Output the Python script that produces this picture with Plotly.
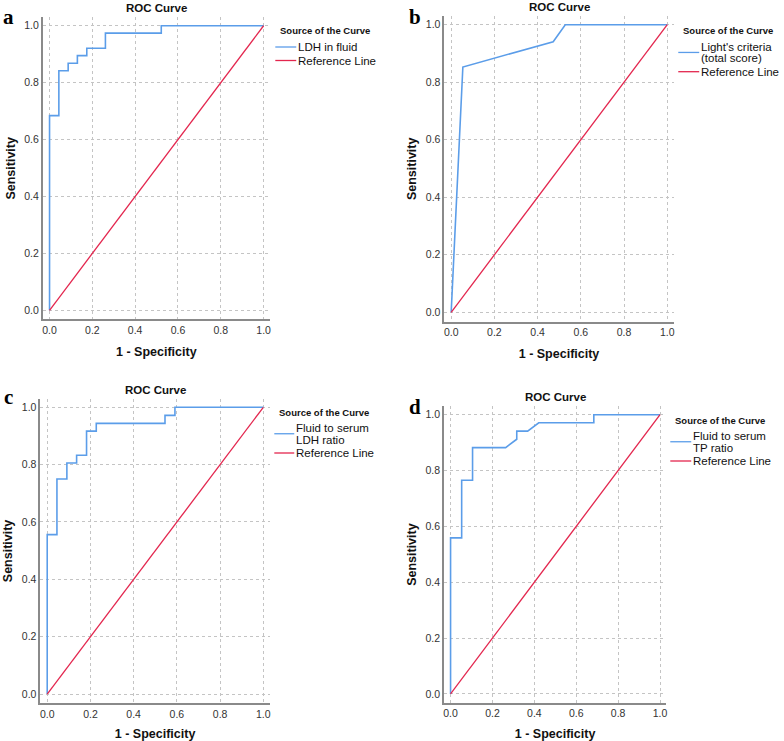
import plotly.graph_objects as go

# ---------------- data ----------------
panel_letters = ["a", "b", "c", "d"]
curve_names = ["LDH in fluid", "Light's criteria<br>(total score)",
               "Fluid to serum<br>LDH ratio", "Fluid to serum<br>TP ratio"]
ref_name = "Reference Line"

a_fpr = [0, 0, 0.0435, 0.0435, 0.087, 0.087, 0.130, 0.130, 0.174, 0.174, 0.261, 0.261, 0.522, 0.522, 1.0]
a_tpr = [0, 0.684, 0.684, 0.842, 0.842, 0.868, 0.868, 0.895, 0.895, 0.921, 0.921, 0.974, 0.974, 1.0, 1.0]

b_fpr = [0, 0.054, 0.472, 0.528, 1.0]
b_tpr = [0, 0.853, 0.941, 1.0, 1.0]

c_fpr = [0, 0, 0.045, 0.045, 0.091, 0.091, 0.136, 0.136, 0.182, 0.182, 0.227, 0.227, 0.545, 0.545, 0.591, 0.591, 1.0]
c_tpr = [0, 0.556, 0.556, 0.750, 0.750, 0.806, 0.806, 0.833, 0.833, 0.917, 0.917, 0.944, 0.944, 0.972, 0.972, 1.0, 1.0]

d_fpr = [0, 0, 0.053, 0.053, 0.105, 0.105, 0.263, 0.316, 0.316, 0.368, 0.421, 0.684, 0.684, 1.0]
d_tpr = [0, 0.559, 0.559, 0.765, 0.765, 0.882, 0.882, 0.912, 0.941, 0.941, 0.971, 0.971, 1.0, 1.0]

ref_x = [0, 1]
ref_y = [0, 1]

tick_vals = [0, 0.2, 0.4, 0.6, 0.8, 1.0]
tick_text = ["0.0", "0.2", "0.4", "0.6", "0.8", "1.0"]

fprs = [a_fpr, b_fpr, c_fpr, d_fpr]
tprs = [a_tpr, b_tpr, c_tpr, d_tpr]

# ---------------- layout (pixel geometry) ----------------
W, H = 784, 741
BLUE = "#5b9de9"
RED = "#e3264e"
FONT = "Liberation Sans"

# plot-area pixel boxes: left, right, top, bottom
boxes = [
    (41.8, 269.7, 17.2, 319.4),
    (444.4, 674.5, 16.1, 321.5),
    (39.4, 269.5, 398.7, 703.2),
    (444.0, 667.0, 406.3, 702.9),
]
# legend anchors: (line x0, line x1, title y, first entry y)
legend_pos = [
    (275, 296, 31, 47),
    (679, 700, 30, 46.7),
    (274, 294, 412, 428),
    (671, 692, 420, 436),
]
letter_pos = [(8, 17), (415, 17), (8, 397), (415, 407)]

RANGE = [-0.032, 1.03]

fig = go.Figure()
annotations = []
shapes = []

for i in range(4):
    xa = "x" if i == 0 else f"x{i+1}"
    ya = "y" if i == 0 else f"y{i+1}"
    fig.add_trace(go.Scatter(x=fprs[i], y=tprs[i], mode="lines",
                             name=curve_names[i].replace("<br>", " "),
                             line=dict(color=BLUE, width=1.6), xaxis=xa, yaxis=ya,
                             showlegend=False))
    fig.add_trace(go.Scatter(x=ref_x, y=ref_y, mode="lines", name=ref_name,
                             line=dict(color=RED, width=1.3), xaxis=xa, yaxis=ya,
                             showlegend=False))

    l, r, t, b = boxes[i]
    xdom = [l / W, r / W]
    ydom = [1 - b / H, 1 - t / H]
    common = dict(range=RANGE, tickvals=tick_vals, ticktext=tick_text,
                  showgrid=True, gridcolor="#c4c4c4", gridwidth=1, griddash="3px,3px",
                  zeroline=False, showline=True, linecolor="#8a8a8a", linewidth=1.5,
                  ticks="",
                  tickfont=dict(family=FONT, size=10.5, color="#333333"),
                  fixedrange=True)
    key_x = "xaxis" if i == 0 else f"xaxis{i+1}"
    key_y = "yaxis" if i == 0 else f"yaxis{i+1}"
    fig.update_layout({
        key_x: dict(domain=xdom, anchor=ya,
                    title=dict(text="<b>1 - Specificity</b>", standoff=12,
                               font=dict(family=FONT, size=12.5, color="#111111")),
                    **common),
        key_y: dict(domain=ydom, anchor=xa,
                    title=dict(text="<b>Sensitivity</b>", standoff=6,
                               font=dict(family=FONT, size=12.5, color="#111111")),
                    **common),
    })

    # panel title
    annotations.append(dict(text="<b>ROC Curve</b>", x=(l + r) / 2 / W, y=1 - (t - 9) / H,
                            xref="paper", yref="paper", showarrow=False,
                            xanchor="center", yanchor="middle",
                            font=dict(family=FONT, size=11.5, color="#111111")))
    # panel letter
    lx, ly = letter_pos[i]
    annotations.append(dict(text=f"<b>{panel_letters[i]}</b>", x=lx / W, y=1 - ly / H,
                            xref="paper", yref="paper", showarrow=False,
                            xanchor="center", yanchor="middle",
                            font=dict(family="Liberation Serif", size=21, color="#000000")))

    # legend (manual, SPSS style)
    x0, x1, ty, ey = legend_pos[i]
    annotations.append(dict(text="<b>Source of the Curve</b>", x=(x0 + 3) / W, y=1 - ty / H,
                            xref="paper", yref="paper", showarrow=False,
                            xanchor="left", yanchor="middle",
                            font=dict(family=FONT, size=9.5, color="#111111")))
    name_lines = curve_names[i].split("<br>")
    nlines = len(name_lines)
    line_h = 11.5
    for k, txt in enumerate(name_lines):
        annotations.append(dict(text=txt, x=x1 / W, y=1 - (ey + k * line_h) / H,
                                xref="paper", yref="paper", showarrow=False,
                                xanchor="left", yanchor="middle",
                                font=dict(family=FONT, size=11.5, color="#111111")))
    cy = ey + (nlines - 1) * line_h / 2
    shapes.append(dict(type="line", xref="paper", yref="paper",
                       x0=x0 / W, x1=x1 / W, y0=1 - cy / H, y1=1 - cy / H,
                       line=dict(color=BLUE, width=1.3)))
    ry = ey + (nlines - 1) * line_h + 13.5
    annotations.append(dict(text=ref_name, x=x1 / W, y=1 - ry / H,
                            xref="paper", yref="paper", showarrow=False,
                            xanchor="left", yanchor="middle",
                            font=dict(family=FONT, size=11.5, color="#111111")))
    shapes.append(dict(type="line", xref="paper", yref="paper",
                       x0=x0 / W, x1=x1 / W, y0=1 - ry / H, y1=1 - ry / H,
                       line=dict(color=RED, width=1.3)))

fig.update_layout(width=W, height=H, margin=dict(l=0, r=0, t=0, b=0),
                  paper_bgcolor="white", plot_bgcolor="white",
                  annotations=annotations, shapes=shapes, showlegend=False)

fig.write_html("out.html", config={"displayModeBar": False},
               post_script="document.body.style.margin='0';document.body.style.overflow='hidden';")
